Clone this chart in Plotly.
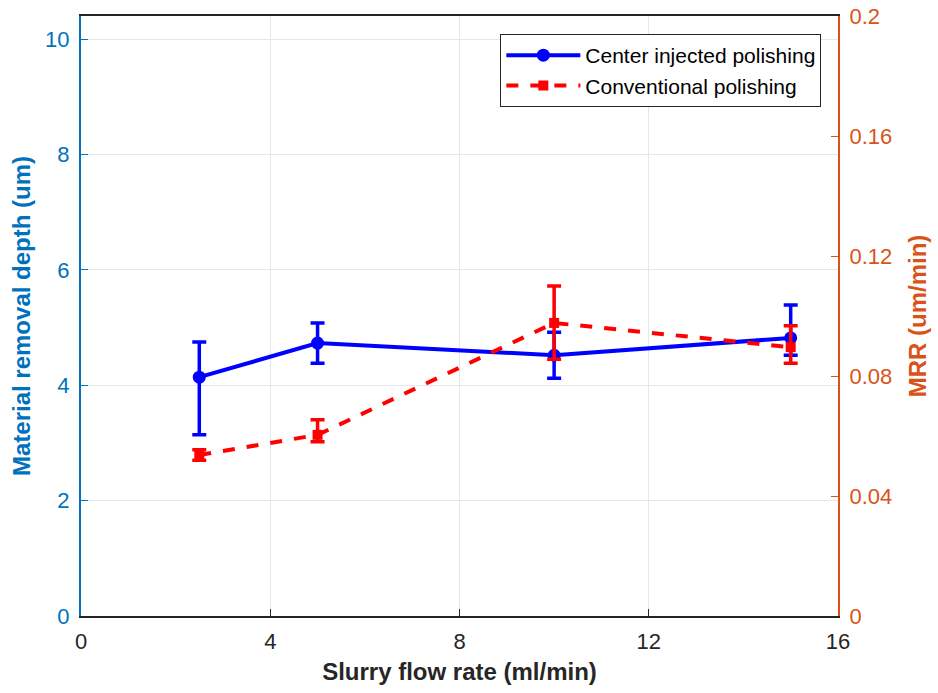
import plotly.graph_objects as go

flow = [2.5, 5, 10, 15]
center_y = [4.14, 4.73, 4.52, 4.82]
center_hi = [4.75, 5.08, 4.92, 5.39]
center_lo = [3.14, 4.38, 4.12, 4.52]
conv_y = [2.79, 3.14, 5.08, 4.66]
conv_hi = [2.88, 3.40, 5.72, 5.03]
conv_lo = [2.70, 3.02, 4.45, 4.38]

x_ticks = [0, 4, 8, 12, 16]
left_ticks = [0, 2, 4, 6, 8, 10]
right_ticks = [0, 0.04, 0.08, 0.12, 0.16, 0.2]

BLUE_AX = "#0072BD"
ORANGE_AX = "#D95319"
FONT = "Liberation Sans, Arial, sans-serif"

def err(y, hi, lo):
    return [h - v for h, v in zip(hi, y)], [v - l for v, l in zip(y, lo)]

cp, cm = err(center_y, center_hi, center_lo)
vp, vm = err(conv_y, conv_hi, conv_lo)

fig = go.Figure()
fig.add_trace(go.Scatter(
    x=flow, y=center_y, mode="lines+markers", name="Center injected polishing",
    line=dict(color="#0000FF", width=4),
    marker=dict(color="#0000FF", size=13, symbol="circle"),
    error_y=dict(type="data", array=cp, arrayminus=cm, color="#0000FF", thickness=3.5, width=7),
))
fig.add_trace(go.Scatter(
    x=flow, y=conv_y, mode="lines+markers", name="Conventional polishing",
    line=dict(color="#FF0000", width=4, dash="dash"),
    marker=dict(color="#FF0000", size=10, symbol="square"),
    error_y=dict(type="data", array=vp, arrayminus=vm, color="#FF0000", thickness=3.5, width=7),
))
fig.add_trace(go.Scatter(x=[0], y=[0], yaxis="y2", mode="markers",
                         marker=dict(opacity=0), showlegend=False, hoverinfo="skip"))

fig.update_layout(
    width=938, height=693,
    margin=dict(l=81, r=100, t=16, b=77, autoexpand=False),
    paper_bgcolor="white", plot_bgcolor="white",
    font=dict(family=FONT, size=22, color="#262626"),
    xaxis=dict(
        range=[0, 16], tickvals=x_ticks, showgrid=True, gridcolor="#E1E7EE", gridwidth=1,
        zeroline=False, showline=True, linecolor="#262626", linewidth=2, mirror=True,
        ticks="inside", ticklen=7, tickcolor="#262626", ticklabelstandoff=5,
        ticklabeloverflow="allow",
        title=dict(text="<b>Slurry flow rate (ml/min)</b>", font=dict(size=24, color="#262626"), standoff=10),
        tickfont=dict(size=22, color="#262626"),
    ),
    yaxis=dict(
        range=[0, 10.4], tickvals=left_ticks, showgrid=True, gridcolor="#E1E7EE", gridwidth=1,
        zeroline=False, showline=True, linecolor=BLUE_AX, linewidth=2,
        ticks="inside", ticklen=7, tickcolor=BLUE_AX, ticklabelstandoff=5,
        ticklabeloverflow="allow",
        title=dict(text="<b>Material removal depth (um)</b>", font=dict(size=24, color=BLUE_AX), standoff=8),
        tickfont=dict(size=22, color=BLUE_AX),
    ),
    yaxis2=dict(
        range=[0, 0.2], tickvals=right_ticks, ticktext=["0", "0.04", "0.08", "0.12", "0.16", "0.2"],
        overlaying="y", side="right", showgrid=False, zeroline=False,
        showline=True, linecolor=ORANGE_AX, linewidth=2,
        ticks="inside", ticklen=7, tickcolor=ORANGE_AX, ticklabelstandoff=5,
        ticklabeloverflow="allow",
        title=dict(text="<b>MRR (um/min)</b>", font=dict(size=24, color=ORANGE_AX), standoff=18),
        tickfont=dict(size=22, color=ORANGE_AX),
    ),
    legend=dict(
        x=0.978, y=0.97, xanchor="right", yanchor="top",
        bgcolor="white", bordercolor="#262626", borderwidth=1,
        font=dict(size=21, color="#000000"), tracegroupgap=0, itemwidth=74,
    ),
    showlegend=True,
)

fig.write_html("out.html", config={"displayModeBar": False},
               post_script="document.body.style.margin='0';")
